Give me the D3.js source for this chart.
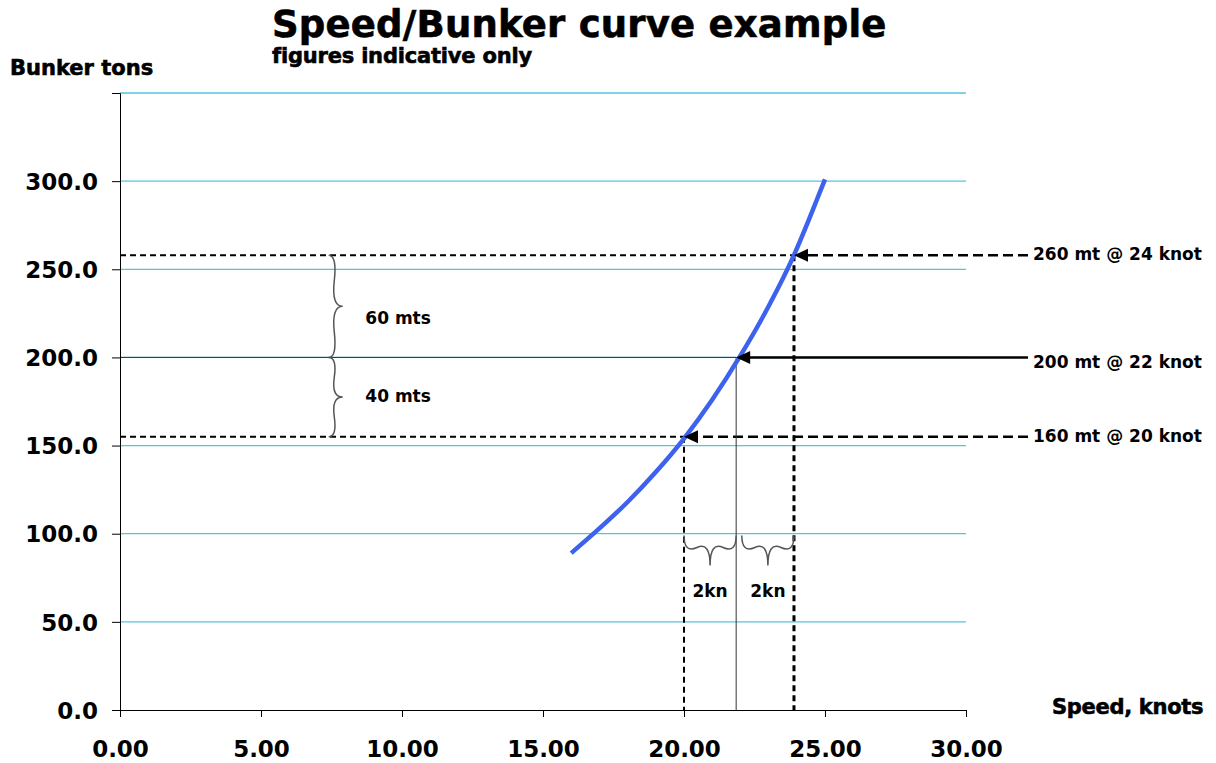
<!DOCTYPE html>
<html>
<head>
<meta charset="utf-8">
<script src="https://cdn.jsdelivr.net/npm/d3@7"></script>
<style>
  html, body { margin: 0; padding: 0; background: #fff; }
  svg { display: block; }
  text { font-family: "DejaVu Sans", Verdana, sans-serif; font-weight: bold; fill: #000; }
</style>
</head>
<body>
<svg id="chart" width="1216" height="763"></svg>
<script>
// ---- data ----
const speeds = [16.0, 17.0, 18.0, 19.0, 20.0, 21.0, 22.0, 23.0, 23.9, 24.4, 24.7, 25.0];
const bunkers = [89, 103, 118, 135, 154, 176, 201, 229, 258, 277, 289, 301];
const xTicks = [0, 5, 10, 15, 20, 25, 30];
const yTicks = [0, 50, 100, 150, 200, 250, 300, 350];
const yLabelTicks = [0, 50, 100, 150, 200, 250, 300];
const refSpeeds = [20.0, 21.85, 23.9];
const refTons = [155, 200, 258];
const refLabels = ["160 mt @ 20 knot", "200 mt @ 22 knot", "260 mt @ 24 knot"];
const refDashed = [true, false, true];
const tonBraces = [[258, 200, "60 mts", 219], [200, 155, "40 mts", 175]];
const knotBraces = [[20.0, 21.85, "2kn"], [22.05, 23.9, "2kn"]];
const title = "Speed/Bunker curve example";
const subtitle = "figures indicative only";
const yTitle = "Bunker tons";
const xTitle = "Speed, knots";

// ---- layout ----
const svg = d3.select("#chart");
const x = d3.scaleLinear().domain([0, 30]).range([120, 966]);
const y = d3.scaleLinear().domain([0, 350]).range([710, 93]);
const labelEnd = x(30) + 62;
const gridColor = "#55c4de";

// gridlines
svg.append("g").selectAll("line").data(yTicks.filter(d => d > 0)).join("line")
  .attr("x1", x(0)).attr("x2", x(30))
  .attr("y1", d => y(d)).attr("y2", d => y(d))
  .attr("stroke", gridColor).attr("stroke-width", 1.3);

// curly brace generator
function brace(x1, y1, x2, y2, w, q) {
  const len = Math.hypot(x1 - x2, y1 - y2);
  const dx = (x1 - x2) / len, dy = (y1 - y2) / len;
  const qx1 = x1 + q * w * dy, qy1 = y1 - q * w * dx;
  const qx2 = (x1 - .25 * len * dx) + (1 - q) * w * dy, qy2 = (y1 - .25 * len * dy) - (1 - q) * w * dx;
  const tx1 = (x1 - .5 * len * dx) + w * dy, ty1 = (y1 - .5 * len * dy) - w * dx;
  const qx3 = x2 + q * w * dy, qy3 = y2 - q * w * dx;
  const qx4 = (x1 - .75 * len * dx) + (1 - q) * w * dy, qy4 = (y1 - .75 * len * dy) - (1 - q) * w * dx;
  return `M${x1},${y1}Q${qx1},${qy1} ${qx2},${qy2}T${tx1},${ty1}M${x2},${y2}Q${qx3},${qy3} ${qx4},${qy4}T${tx1},${ty1}`;
}

// reference lines
const refs = refSpeeds.map((s, i) => ({ s, t: refTons[i], label: refLabels[i], dashed: refDashed[i] }));
const gRef = svg.append("g");
refs.forEach((r, i) => {
  gRef.append("line")
    .attr("x1", x(0)).attr("x2", x(r.s)).attr("y1", y(r.t)).attr("y2", y(r.t))
    .attr("stroke", r.dashed ? "#000" : "#333")
    .attr("stroke-width", r.dashed ? 2 : 1)
    .attr("stroke-dasharray", r.dashed ? "6,4" : null);
  gRef.append("line")
    .attr("x1", x(r.s)).attr("x2", x(r.s)).attr("y1", y(r.t)).attr("y2", y(0))
    .attr("stroke", r.dashed ? "#000" : "#333")
    .attr("stroke-width", r.dashed ? (i === 2 ? 3 : 2) : 1)
    .attr("stroke-dasharray", r.dashed ? "6,4" : null);
  gRef.append("line")
    .attr("x1", labelEnd).attr("x2", x(r.s) + 10).attr("y1", y(r.t)).attr("y2", y(r.t))
    .attr("stroke", "#000")
    .attr("stroke-width", 2.5)
    .attr("stroke-dasharray", r.dashed ? "10,5" : null);
});

// braces
tonBraces.forEach(b => {
  svg.append("path")
    .attr("d", brace(x(7.4), y(b[1]), x(7.4), y(b[0]), 14, 0.6))
    .attr("fill", "none").attr("stroke", "#555").attr("stroke-width", 1.5);
  svg.append("text").attr("x", x(8.7)).attr("y", y(b[3]))
    .attr("font-size", 17).text(b[2]);
});
knotBraces.forEach(b => {
  svg.append("path")
    .attr("d", brace(x(b[0]), y(99), x(b[1]), y(99), 30, 0.6))
    .attr("fill", "none").attr("stroke", "#555").attr("stroke-width", 1.5);
  svg.append("text").attr("x", (x(b[0]) + x(b[1])) / 2).attr("y", y(64))
    .attr("text-anchor", "middle").attr("font-size", 17).text(b[2]);
});

// curve
const pts = speeds.map((s, i) => [s, bunkers[i]]);
svg.append("path")
  .datum(pts)
  .attr("d", d3.line().x(d => x(d[0])).y(d => y(d[1])).curve(d3.curveMonotoneX))
  .attr("fill", "none").attr("stroke", "#3d63ee").attr("stroke-width", 4.5)
  .attr("stroke-linecap", "butt");

// arrowheads
refs.forEach(r => {
  const tx = x(r.s), ty = y(r.t);
  svg.append("path")
    .attr("d", `M${tx},${ty}L${tx + 14},${ty - 6.5}L${tx + 14},${ty + 6.5}Z`)
    .attr("fill", "#000");
});

// right labels
refs.forEach(r => {
  svg.append("text").attr("x", labelEnd + 5).attr("y", y(r.t) + (r.dashed ? 5 : 11))
    .attr("font-size", 17).text(r.label);
});

// axes
const xAxis = svg.append("g").attr("transform", `translate(0,${y(0)})`)
  .call(d3.axisBottom(x).tickValues(xTicks).tickFormat(d3.format(".2f")).tickSizeOuter(0).tickSize(7).tickPadding(24));
const yAxis = svg.append("g").attr("transform", `translate(${x(0)},0)`)
  .call(d3.axisLeft(y).tickValues(yTicks).tickFormat(d => yLabelTicks.includes(d) ? d3.format(".1f")(d) : "").tickSizeOuter(0).tickSize(8).tickPadding(14));
[xAxis, yAxis].forEach(g => {
  g.selectAll("path").attr("stroke", "#000").attr("stroke-width", 1);
  g.selectAll("line").attr("stroke", "#000");
  g.selectAll("text").attr("font-size", 23).attr("font-family", "DejaVu Sans").attr("font-weight", "bold").attr("fill", "#000");
});
yAxis.selectAll("text").attr("dy", "0.36em");

// titles
const heavy = sel => sel.attr("stroke", "#000").attr("stroke-width", 0.6);
heavy(svg.append("text").attr("x", 272).attr("y", 37).attr("font-size", 37).attr("letter-spacing", 0.2).text(title));
heavy(svg.append("text").attr("x", 272).attr("y", 63).attr("font-size", 21).attr("letter-spacing", -0.2).text(subtitle));
heavy(svg.append("text").attr("x", 10).attr("y", 75).attr("font-size", 21).attr("letter-spacing", 0).text(yTitle));
heavy(svg.append("text").attr("x", 1052).attr("y", 714).attr("font-size", 21).attr("letter-spacing", -0.3).text(xTitle));
</script>
</body>
</html>
